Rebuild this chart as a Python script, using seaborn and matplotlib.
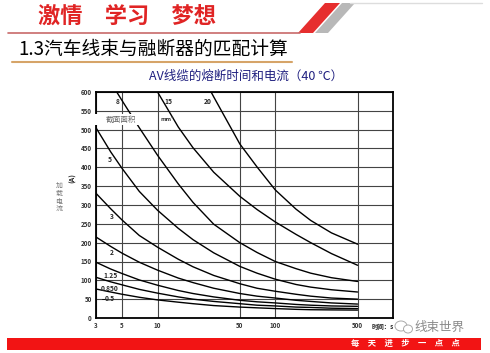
import matplotlib
matplotlib.use("Agg")
import matplotlib.pyplot as plt
from matplotlib.patches import Rectangle, Polygon, Ellipse
from matplotlib.lines import Line2D
import pandas as pd
import seaborn as sns

# ---- 读图得到的数据: 时间 (s) / 电流 (A) ----
t_common = [3, 4, 5, 7, 10, 15, 20, 30, 50, 70, 100, 150, 200, 300, 500]
i_05 = [77, 69, 63, 55, 48, 42, 38, 33, 29, 27, 25, 23, 22, 21.5, 21]
i_085 = [108, 96, 88, 76, 66, 56, 50, 44, 38, 34, 32, 29, 28, 26, 25]
i_125 = [148, 130, 118, 101, 87, 73, 65, 56, 47, 43, 40, 36, 34, 32, 31]
i_2 = [215, 190, 172, 148, 127, 106, 94, 79, 65, 58, 53, 47, 44, 40, 37]
i_3 = [331, 290, 260, 219, 188, 156, 136, 113, 91, 79, 71, 63, 58, 53, 50]
i_5 = [505, 441, 397, 336, 286, 238, 208, 173, 137, 119, 103, 89, 82, 75, 69]
t_8 = [4.5, 5, 7, 10, 15, 20, 30, 50, 70, 100, 150, 200, 300, 500]
i_8 = [600, 577, 505, 432, 356, 307, 249, 200, 174, 150, 131, 119, 107, 97]
t_15 = [10, 15, 20, 30, 50, 70, 100, 150, 200, 300, 500]
i_15 = [600, 507, 452, 387, 323, 288, 255, 222, 200, 171, 140]
t_20 = [28.5, 30, 50, 70, 100, 150, 200, 300, 500]
i_20 = [600, 587, 462, 401, 340, 289, 259, 226, 196]

sizes = ["0.5", "0.85", "1.25", "2", "3", "5", "8", "15", "20"]
curve_t = [t_common] * 6 + [t_8, t_15, t_20]
curve_i = [i_05, i_085, i_125, i_2, i_3, i_5, i_8, i_15, i_20]

# 曲线旁的截面标注
label_text = ["8", "15", "20", "5", "3", "2", "1.25", "0.850", "0.5"]
label_t = [4.55, 12.3, 26.7, 3.95, 4.1, 4.05, 3.95, 3.95, 3.95]
label_i = [574, 574, 574, 422, 269, 174, 112, 78, 51]

x_ticks = [3, 5, 10, 50, 100, 500]

rows = []
for s, ts, vs in zip(sizes, curve_t, curve_i):
    for t, v in zip(ts, vs):
        rows.append({"size": s, "t": t, "I": v})
df = pd.DataFrame(rows)

sns.set_style("white")
plt.rcParams['font.family'] = ['Noto Sans CJK SC', 'DejaVu Sans']

W, H = 490, 353
fig = plt.figure(figsize=(W / 100, H / 100), dpi=100)

def fx(x):
    return x / W

def fy(y):
    return 1 - y / H

ax = fig.add_axes([fx(96), fy(318), 297 / W, 226 / H])
sns.lineplot(data=df, x="t", y="I", hue="size", palette={s: "black" for s in sizes},
             legend=False, estimator=None, lw=1.0, ax=ax)
ax.set_xscale("log")
ax.set_xlim(3, 1000)
ax.set_ylim(0, 600)
ax.set_xticks(x_ticks)
ax.set_xticklabels([str(v) for v in x_ticks])
ax.minorticks_off()
ax.set_yticks(range(0, 601, 50))
ax.grid(True, color="#444444", lw=0.8)
ax.tick_params(length=0, pad=3, labelsize=4.5, labelcolor="#333333")
for lab in ax.get_xticklabels() + ax.get_yticklabels():
    lab.set_fontweight("bold")
for sp in ax.spines.values():
    sp.set_visible(True)
    sp.set_color("black")
    sp.set_linewidth(1.3)
ax.set_xlabel("")
ax.set_ylabel("")

for txt, t, v in zip(label_text, label_t, label_i):
    ax.text(t, v, txt, fontsize=4.8, fontweight="bold", ha="center", va="center")
ax.plot([3.35, 3.6], [51, 51], color="black", lw=0.6)

# 截面面积 白底标注
fig.add_artist(Rectangle((fx(64), fy(125)), 81 / W, 11 / H, transform=fig.transFigure,
                         facecolor="white", edgecolor="none", zorder=3))
fig.text(fx(121), fy(119.5), "截面面积", fontsize=5.5, color="#666666", ha="center", va="center", zorder=4)
fig.text(fx(167), fy(119), "mm²", fontsize=4.2, color="#333333", ha="center", va="center", fontweight="bold")

# 轴标签
fig.text(fx(73), fy(178), "(A)", rotation=90, fontsize=5, fontweight="bold", ha="center", va="center")
fig.text(fx(59), fy(198), "加\n载\n电\n流", fontsize=5, color="#777777", ha="center", va="center",
         linespacing=1.0)
fig.text(fx(372), fy(326), "时间：s", fontsize=4.6, fontweight="bold", ha="left", va="center")

# 水印
fig.add_artist(Ellipse((fx(401), fy(326)), 12 / W, 10 / H, transform=fig.transFigure,
                       facecolor="white", edgecolor="#aaaaaa", lw=0.7, zorder=5))
fig.add_artist(Ellipse((fx(408), fy(329)), 9 / W, 8 / H, transform=fig.transFigure,
                       facecolor="white", edgecolor="#aaaaaa", lw=0.7, zorder=5))
fig.text(fx(414), fy(327), "线束世界", fontsize=9, color="#8a8a8a", ha="left", va="center", zorder=6)

# 页面标题
fig.text(fx(38), fy(16), "激情\u3000学习\u3000梦想", fontsize=16, fontweight="bold",
         color="#e02424", ha="left", va="center")
fig.add_artist(Line2D([fx(8), fx(300)], [fy(33), fy(33)], transform=fig.transFigure,
                      color="#c86a6a", lw=1.2))
fig.add_artist(Polygon([(fx(298), fy(33)), (fx(313), fy(33)), (fx(340), fy(3)), (fx(325), fy(3))],
                       closed=True, transform=fig.transFigure, facecolor="#e62e2e", edgecolor="none"))
fig.add_artist(Polygon([(fx(315), fy(33)), (fx(328), fy(33)), (fx(355), fy(3)), (fx(342), fy(3))],
                       closed=True, transform=fig.transFigure, facecolor="#b8b8b8", edgecolor="none"))
fig.add_artist(Line2D([fx(350), fx(482)], [fy(3), fy(3)], transform=fig.transFigure,
                      color="#dddddd", lw=1.0))

fig.text(fx(18), fy(49), "1.3汽车线束与融断器的匹配计算", fontsize=13.5, color="black",
         ha="left", va="center")
fig.add_artist(Line2D([fx(12), fx(292)], [fy(62), fy(62)], transform=fig.transFigure,
                      color="#d6a468", lw=1.5))

fig.text(fx(246), fy(76), "AV线缆的熔断时间和电流（40 ℃）", fontsize=9, color="#202080",
         ha="center", va="center")

# 底部红条
fig.add_artist(Rectangle((fx(7), fy(349.5)), 474 / W, 11.5 / H, transform=fig.transFigure,
                         facecolor="#f21414", edgecolor="none"))
fig.text(fx(405), fy(343.5), "每　天　进　步　一　点　点", fontsize=6, fontweight="bold",
         color="white", ha="center", va="center")

fig.savefig("out.png", dpi=100)
